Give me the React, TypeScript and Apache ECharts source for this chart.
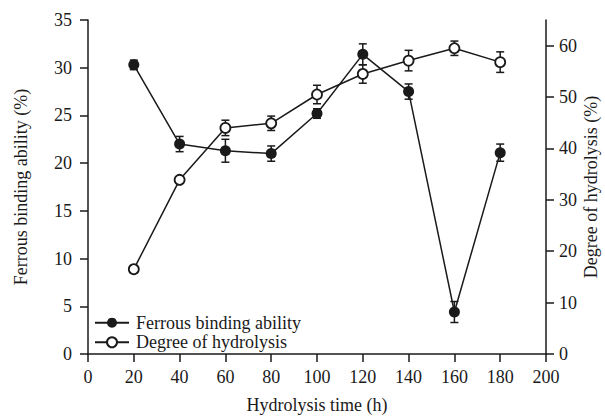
import React, { useEffect, useRef } from "react";
import * as echarts from "echarts";

const hours = [20, 40, 60, 80, 100, 120, 140, 160, 180];
const ferrous = [30.3, 22.0, 21.3, 21.0, 25.2, 31.4, 27.5, 4.4, 21.1];
const ferrousErr = [0.5, 0.8, 1.2, 0.8, 0.5, 1.1, 0.8, 1.1, 0.9];
const dh = [16.5, 33.9, 44.0, 44.9, 50.5, 54.5, 57.1, 59.5, 56.8];
const dhErr = [0.7, 0.6, 1.5, 1.4, 1.8, 1.8, 2.0, 1.4, 2.0];
const rightTicks = [0, 10, 20, 30, 40, 50, 60];

const FONT = "Liberation Serif";
const INK = "#1a1a1a";
const FS = 18;

function errorRender(params: any, api: any) {
  const x = api.value(0);
  const lo = api.value(1);
  const hi = api.value(2);
  const p1 = api.coord([x, lo]);
  const p2 = api.coord([x, hi]);
  const w = 4;
  const style = { stroke: INK, lineWidth: 1.5 };
  return {
    type: "group",
    children: [
      { type: "line", shape: { x1: p1[0], y1: p1[1], x2: p2[0], y2: p2[1] }, style },
      { type: "line", shape: { x1: p1[0] - w, y1: p1[1], x2: p1[0] + w, y2: p1[1] }, style },
      { type: "line", shape: { x1: p2[0] - w, y1: p2[1], x2: p2[0] + w, y2: p2[1] }, style },
    ],
  };
}

export default function App() {
  const ref = useRef<HTMLDivElement>(null);
  useEffect(() => {
    document.body.style.margin = "0";
    const chart = echarts.init(ref.current!, null, { renderer: "svg" });
    const axisCommon = {
      axisLine: { show: true, lineStyle: { color: INK, width: 1.5 } },
      axisTick: { show: true, inside: false, length: 8, lineStyle: { color: INK, width: 1.5 } },
      splitLine: { show: false },
      nameLocation: "middle" as const,
      nameMoveOverlap: false,
      nameTextStyle: { fontFamily: FONT, fontSize: FS, color: INK },
    };
    const labelStyle = { fontFamily: FONT, fontSize: FS, color: INK };
    chart.setOption({
      animation: false,
      backgroundColor: "#fff",
      textStyle: { fontFamily: FONT },
      grid: {
        left: 88,
        right: 59,
        top: 20,
        bottom: 63,
        containLabel: false,
        outerBoundsMode: "none",
      },
      legend: {
        orient: "vertical",
        left: 94,
        top: 313.7,
        padding: 0,
        itemWidth: 34,
        itemHeight: 12.5,
        itemGap: 1.6,
        data: ["Ferrous binding ability", "Degree of hydrolysis"],
        textStyle: {
          fontFamily: FONT,
          fontSize: FS,
          lineHeight: 18,
          color: INK,
          padding: [0, 0, 0, 2],
        },
      },
      xAxis: {
        type: "value",
        min: 0,
        max: 200,
        interval: 20,
        name: "Hydrolysis time (h)",
        nameGap: 42,
        ...axisCommon,
        axisLabel: { ...labelStyle, margin: 14 },
      },
      yAxis: [
        {
          type: "value",
          min: 0,
          max: 35,
          interval: 5,
          position: "left",
          name: "Ferrous binding ability (%)",
          nameGap: 58,
          ...axisCommon,
          axisLabel: { ...labelStyle, margin: 16 },
        },
        {
          type: "value",
          min: 0,
          max: 65,
          interval: 10,
          position: "right",
          name: "Degree of hydrolysis (%)",
          nameGap: 36,
          ...axisCommon,
          axisTick: { ...axisCommon.axisTick, customValues: rightTicks },
          axisLabel: { ...labelStyle, margin: 13, customValues: rightTicks },
        },
      ],
      series: [
        {
          type: "custom",
          name: "ferrousErr",
          renderItem: errorRender,
          yAxisIndex: 0,
          encode: { x: 0, y: [1, 2] },
          data: hours.map((h, i) => [h, ferrous[i] - ferrousErr[i], ferrous[i] + ferrousErr[i]]),
          z: 1,
          silent: true,
        },
        {
          type: "custom",
          name: "dhErr",
          renderItem: errorRender,
          yAxisIndex: 1,
          encode: { x: 0, y: [1, 2] },
          data: hours.map((h, i) => [h, dh[i] - dhErr[i], dh[i] + dhErr[i]]),
          z: 1,
          silent: true,
        },
        {
          type: "line",
          name: "Ferrous binding ability",
          yAxisIndex: 0,
          data: hours.map((h, i) => [h, ferrous[i]]),
          symbol: "circle",
          symbolSize: 11,
          showAllSymbol: true,
          lineStyle: { color: INK, width: 1.5 },
          itemStyle: { color: INK, borderColor: INK, borderWidth: 0 },
          z: 3,
        },
        {
          type: "line",
          name: "Degree of hydrolysis",
          yAxisIndex: 1,
          data: hours.map((h, i) => [h, dh[i]]),
          symbol: "circle",
          symbolSize: 10,
          showAllSymbol: true,
          lineStyle: { color: INK, width: 1.5 },
          itemStyle: { color: "#fff", borderColor: INK, borderWidth: 1.8 },
          z: 3,
        },
      ],
    });
    return () => chart.dispose();
  }, []);
  return <div ref={ref} style={{ width: 605, height: 417 }} />;
}
